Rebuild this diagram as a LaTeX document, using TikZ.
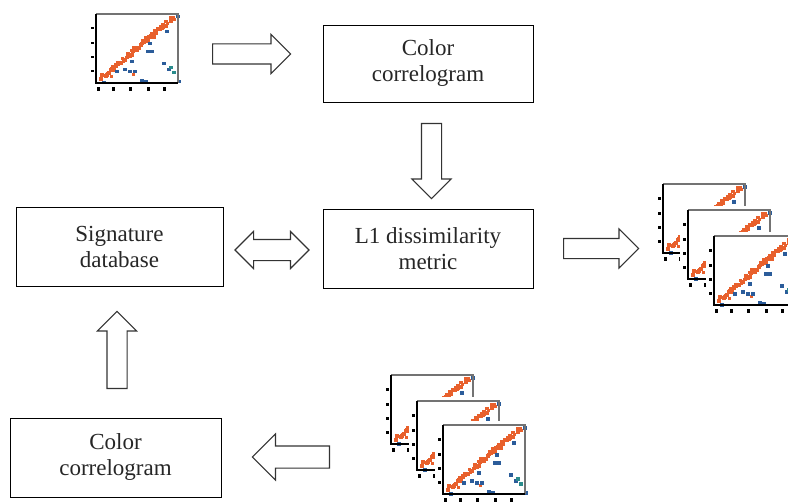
\documentclass[tikz,border=0pt]{standalone}
\usepackage{fontspec}
\setmainfont{Liberation Serif}
\usetikzlibrary{shapes.arrows}
\definecolor{dotred}{HTML}{E8602C}
\definecolor{dotblue}{HTML}{2B5C9A}
\definecolor{dotteal}{HTML}{2A8C8C}
\tikzset{
        % Process boxes
        box/.style={draw=black, line width=0.9, inner sep=0pt, align=center,
                minimum width=210, minimum height=79, text=black!85,
                font=\fontsize{23}{26}\selectfont},
        % Hollow block arrows
        blockarrow/.style={single arrow, draw=black!80, line width=1.1, fill=white,
                inner xsep=0pt, inner ysep=9.5, single arrow head extend=9.5,
                single arrow tip angle=90, anchor=tail},
        twowayarrow/.style={double arrow, draw=black!80, line width=1.1, fill=white,
                inner xsep=0pt, inner ysep=10, double arrow head extend=8,
                double arrow tip angle=90},
        % Small scatter plot (frame 82 x 69, origin at top left)
        scatterplot/.pic={
            \fill[white] (-8,-4) rectangle (87,81);
            \pgfmathsetseed{11}
            \foreach \t in {0,0.012,...,1} {
                \pgfmathsetmacro\dx{2.2*rand}
                \pgfmathsetmacro\dy{2.2*rand}
                \fill[dotred] ({2+75*\t+\dx},{63-62*\t+\dy}) rectangle ++(3.5,3.5);
            }
            \foreach \px/\py in {36/59, 14/61}
                \fill[dotred] (\px,\py) rectangle ++(2.5,3);
            \foreach \px/\py in {52/28, 54/36, 50/36, 19/56, 27/54, 32/56, 37/56,
                    66/48, 71/54, 44/65, 46/66, 48/66, 81/66, 6/67, 69/16, 34/46, 80/1}
                \fill[dotblue] (\px,\py) rectangle ++(3.5,3.5);
            \foreach \px/\py in {73/52, 76/57}
                \fill[dotteal] (\px,\py) rectangle ++(3.5,3.5);
            \draw[black!55, line width=1.6] (0,0) -- (82,0) -- (82,69);
            \draw[black, line width=1.4] (0,0) -- (0,69) -- (82,69);
            \foreach \ty in {13,28,42,56}
                \fill[black] (-5,\ty) rectangle ++(2.5,2.5);
            \foreach \tx in {1,16,33,51,67}
                \fill[black] (\tx,73) rectangle ++(3,4);
        }
}
\begin{document}
\begin{tikzpicture}[x=1pt, y=-1pt]
    \useasboundingbox (0,0) rectangle (788,503);
    \clip (0,0) rectangle (788,503);
    % Boxes
    \node[box, minimum height=77] (corrTop) at (428,63.5) {Color\\correlogram};
    \node[box] (metric) at (428,248.5) {L1 dissimilarity\\metric};
    \node[box, minimum width=207] (sigDb) at (119.5,246.5) {Signature\\database};
    \node[box, minimum width=211] (corrBot) at (115.5,457.5) {Color\\correlogram};
    % Plots
    \pic (plotQuery) at (96,14) {scatterplot};
    \pic (plotRes1) at (663,184) {scatterplot};
    \pic (plotRes2) at (688,210) {scatterplot};
    \pic (plotRes3) at (714,236) {scatterplot};
    \pic (plotDb1) at (391,375) {scatterplot};
    \pic (plotDb2) at (417,401) {scatterplot};
    \pic (plotDb3) at (443,425) {scatterplot};
    % Arrows
    \node[blockarrow, minimum height=78] (toCorrTop) at (212,54) {};
    \node[blockarrow, minimum height=75, rotate=-90] (toMetric) at (431.5,123) {};
    \node[twowayarrow, minimum height=74] (sigMetric) at (272,250) {};
    \node[blockarrow, minimum height=75] (toResults) at (563,248.5) {};
    \node[blockarrow, minimum height=77, rotate=90] (toSigDb) at (117,389) {};
    \node[blockarrow, minimum height=77, rotate=180, inner ysep=10.5,
        single arrow head extend=12] (toCorrBot) at (330,457) {};
\end{tikzpicture}
\end{document}
